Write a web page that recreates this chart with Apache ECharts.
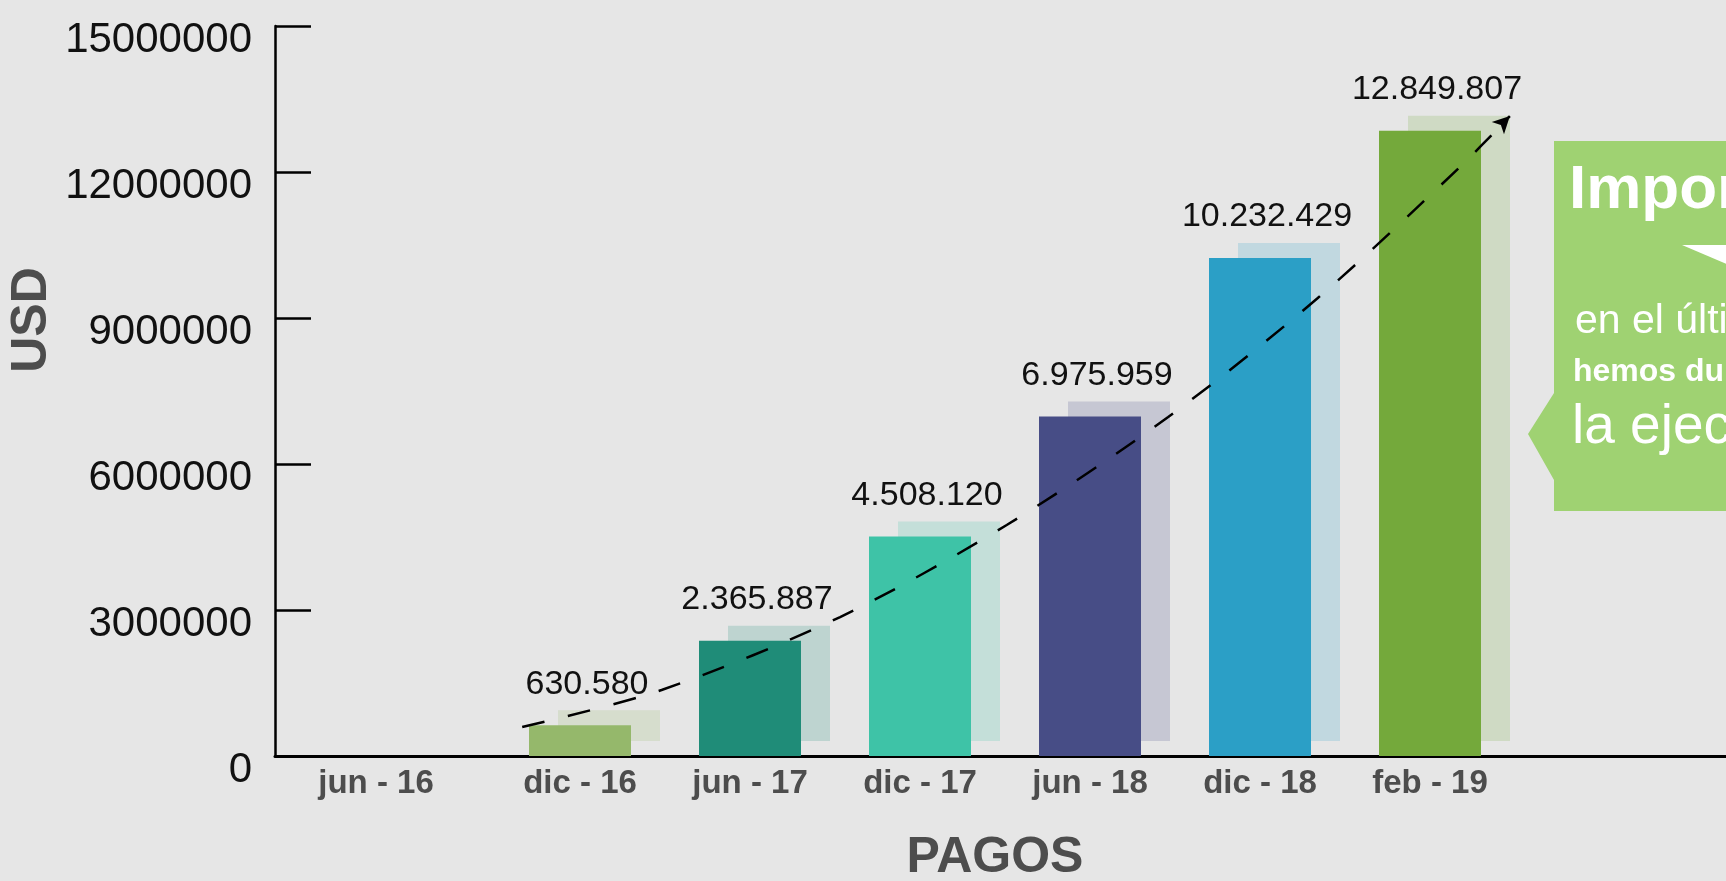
<!DOCTYPE html>
<html>
<head>
<meta charset="utf-8">
<script src="https://cdn.jsdelivr.net/npm/echarts@6/dist/echarts.min.js"></script>
<style>
  html, body { margin: 0; padding: 0; background: #e6e6e6; }
  #chart { width: 1726px; height: 881px; }
</style>
</head>
<body>
<div id="chart"></div>
<script>
// datos del grafico
var categories = ['jun - 16', 'dic - 16', 'jun - 17', 'dic - 17', 'jun - 18', 'dic - 18', 'feb - 19'];
var pagos = [null, 630580, 2365887, 4508120, 6975959, 10232429, 12849807];
var barColors = ['#95b86b', '#95b86b', '#1f8c78', '#3ec3a7', '#474d86', '#2b9fc6', '#74a93b'];
// flecha de tendencia (x en indice de categoria, y en USD)
var trendX = [0.66, 1.48, 2.53, 3.51, 4.46, 5.34, 6.17, 6.47];
var trendY = [596000, 1356000, 2856000, 4747000, 6966000, 9411000, 12082000, 13150000];
var yMin = 0, yMax = 15000000, yStep = 3000000;

// layout
var W = 1726, axisX = 275, step = 170, firstCenter = 410;
var shadowDx = 29, shadowDy = 15;
var xMin = (axisX - firstCenter) / step;
var xMax = (W - firstCenter) / step;
var xMaxShadow = (W - shadowDx - firstCenter) / step;

function fmt(v) {
    return String(v).replace(/\B(?=(\d{3})+(?!\d))/g, '.');
}

var chart = echarts.init(document.getElementById('chart'));

var mainData = [], backData = [];
pagos.forEach(function (v, i) {
    if (v == null) return;
    mainData.push({ value: [i, v], itemStyle: { color: barColors[i] } });
    backData.push({ value: [i, v], itemStyle: { color: barColors[i], opacity: 0.2 } });
});

var trendData = trendX.map(function (x, i) {
    var item = { value: [x, trendY[i]] };
    if (i === trendX.length - 1) {
        item.symbol = 'arrow';
        item.symbolSize = [13, 17];
        item.symbolRotate = -45;
        item.itemStyle = { color: '#000' };
    }
    return item;
});

var option = {
    backgroundColor: '#e6e6e6',
    animation: false,
    grid: [
        { left: axisX, top: 26, right: 0, bottom: 125 },
        // sombra de las barras, desplazada
        { left: axisX + shadowDx, top: 26 - shadowDy, right: 0, bottom: 125 + shadowDy }
    ],
    xAxis: [
        {
            type: 'value', gridIndex: 0, min: xMin, max: xMax,
            splitLine: { show: false },
            axisTick: { show: false },
            axisLine: { show: true, onZero: false, lineStyle: { color: '#000', width: 3 } },
            axisLabel: {
                customValues: categories.map(function (c, i) { return i === 0 ? -0.2 : i; }),
                formatter: function (v) { return categories[Math.round(v)] || ''; },
                color: '#4d4d4d',
                fontFamily: 'Liberation Sans',
                fontWeight: 'bold',
                fontSize: 33,
                margin: 11
            }
        },
        {
            type: 'value', gridIndex: 1, min: xMin, max: xMaxShadow, show: false
        }
    ],
    yAxis: [
        {
            type: 'value', gridIndex: 0, min: yMin, max: yMax, interval: yStep,
            splitLine: { show: false },
            axisLine: { show: true, onZero: false, lineStyle: { color: '#000', width: 2.5 } },
            axisTick: { show: true, inside: true, length: 36, lineStyle: { color: '#000', width: 2.5 } },
            axisLabel: {
                color: '#111',
                fontFamily: 'Liberation Sans',
                fontSize: 42,
                margin: 23,
                verticalAlign: 'top',
                lineHeight: 28,
                formatter: function (v) { return String(v); }
            }
        },
        {
            type: 'value', gridIndex: 1, min: yMin, max: yMax, show: false
        }
    ],
    series: [
        {
            type: 'bar', xAxisIndex: 1, yAxisIndex: 1, barWidth: 102, z: 1,
            data: backData
        },
        {
            type: 'bar', xAxisIndex: 0, yAxisIndex: 0, barWidth: 102, z: 2,
            data: mainData,
            label: {
                show: true,
                position: 'top',
                distance: 24,
                offset: [7, 0],
                color: '#111',
                fontFamily: 'Liberation Sans',
                fontSize: 34,
                formatter: function (p) { return fmt(p.value[1]); }
            }
        },
        {
            type: 'line', xAxisIndex: 0, yAxisIndex: 0, z: 5,
            smooth: 0.3,
            symbol: 'none',
            showSymbol: true,
            lineStyle: { color: '#000', width: 2.5, type: [23, 24] },
            data: trendData
        }
    ],
    graphic: [
        {
            type: 'text', x: 32, y: 320, rotation: Math.PI / 2,
            style: {
                text: 'USD', fill: '#4d4d4d', font: 'bold 50px "Liberation Sans"',
                textAlign: 'center', textVerticalAlign: 'middle'
            }
        },
        {
            type: 'text', x: 995, y: 858,
            style: {
                text: 'PAGOS', fill: '#4d4d4d', font: 'bold 50px "Liberation Sans"',
                textAlign: 'center', textVerticalAlign: 'middle'
            }
        },
        // cuadro de texto a la derecha
        {
            type: 'polygon', z: 10,
            shape: { points: [[1554, 141], [1800, 141], [1800, 511], [1554, 511], [1554, 480], [1528, 434], [1554, 393]] },
            style: { fill: '#9fd272' }
        },
        {
            type: 'polygon', z: 11,
            shape: { points: [[1682, 245], [1800, 245], [1741, 270]] },
            style: { fill: '#ffffff' }
        },
        {
            type: 'text', x: 1569, y: 191, z: 11,
            style: { text: 'Importante', fill: '#fff', font: 'bold 62px "Liberation Sans"', textVerticalAlign: 'middle' }
        },
        {
            type: 'text', x: 1575, y: 322, z: 11,
            style: { text: 'en el último año', fill: '#fff', font: '41px "Liberation Sans"', textVerticalAlign: 'middle' }
        },
        {
            type: 'text', x: 1573, y: 372, z: 11,
            style: { text: 'hemos duplicado', fill: '#fff', font: 'bold 32px "Liberation Sans"', textVerticalAlign: 'middle' }
        },
        {
            type: 'text', x: 1572, y: 428, z: 11,
            style: { text: 'la ejecución', fill: '#fff', font: '55px "Liberation Sans"', textVerticalAlign: 'middle' }
        }
    ]
};

chart.setOption(option);
</script>
</body>
</html>
